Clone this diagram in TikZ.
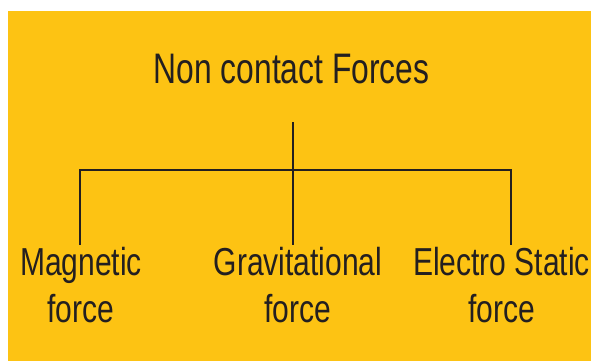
\documentclass[tikz,border=0pt]{standalone}
\usepackage{fontspec}
\setmainfont{Liberation Sans}
\definecolor{bgyellow}{RGB}{253,195,19}
\definecolor{inkgray}{RGB}{35,31,32}
\tikzset{
  label/.style={align=center, inner sep=0pt, anchor=base, text=inkgray,
    font=\fontsize{39}{47}\selectfont},
  branch/.style={draw=inkgray, line width=2.2pt}
}
\begin{document}
\begin{tikzpicture}[x=1pt,y=-1pt]
\useasboundingbox (0,0) rectangle (591,361);

\fill[color=bgyellow] (8,11) rectangle (591,361);

\node[label, font=\fontsize{42.7}{51}\selectfont] (title) at (291.5,83.3)
  {\scalebox{0.745}[1]{Non contact Forces}};

% leaf labels, base = second line
\node[label] (magnetic) at (81,322.5)
  {\scalebox{0.77}[1]{Magnetic}\\\scalebox{0.77}[1]{force}};
\node[label] (gravitational) at (298,322.7)
  {\scalebox{0.77}[1]{Gravitational}\\\scalebox{0.77}[1]{force}};
\node[label] (electro) at (501.5,322.5)
  {\scalebox{0.77}[1]{Electro Static}\\\scalebox{0.77}[1]{force}};

\coordinate (root) at (292.7,122);
\coordinate (fork) at (292.7,170.3);
\coordinate (magtop) at (80,245);
\coordinate (gravtop) at (292.7,245);
\coordinate (elecstop) at (511,245);

\draw[branch] (root) -- (fork);
\draw[branch] (magtop) |- (fork) -| (elecstop);
\draw[branch] (fork) -- (gravtop);
\end{tikzpicture}
\end{document}
